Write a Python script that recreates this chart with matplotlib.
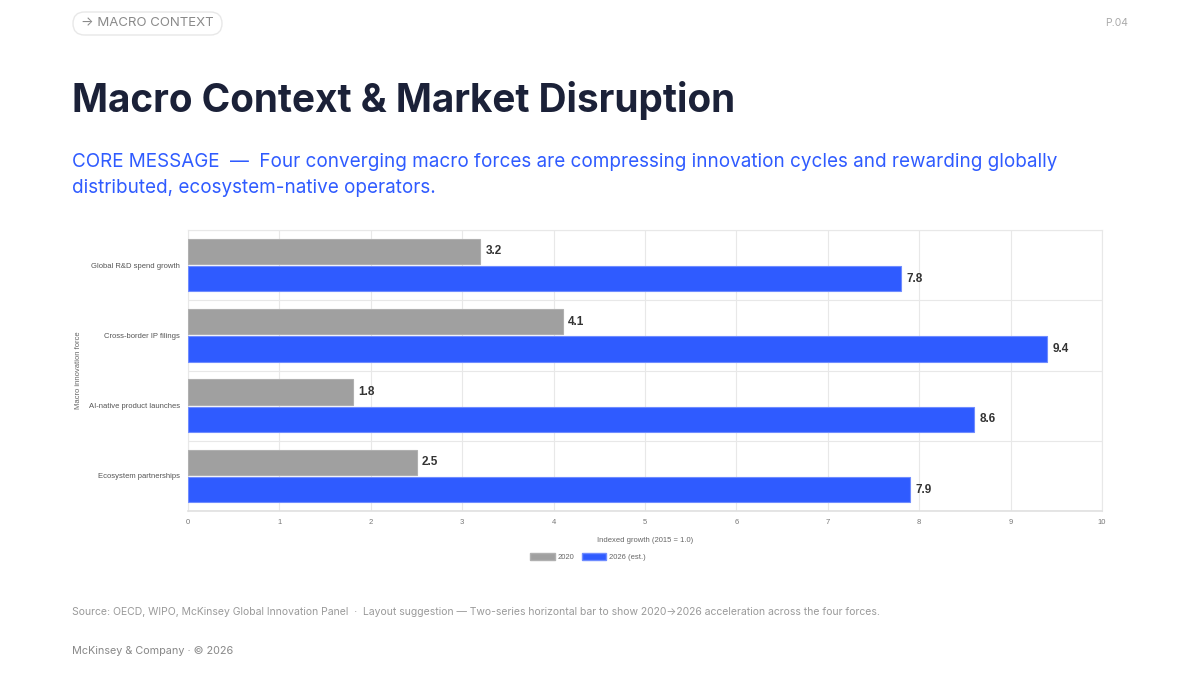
import matplotlib
matplotlib.use("Agg")
import matplotlib.pyplot as plt
import numpy as np
from matplotlib.patches import FancyBboxPatch, Patch

# ---- Data ----
forces = ["Global R&D spend growth", "Cross-border IP filings",
          "AI-native product launches", "Ecosystem partnerships"]
vals_2020 = [3.2, 4.1, 1.8, 2.5]
vals_2026 = [7.8, 9.4, 8.6, 7.9]
series_names = ["2020", "2026 (est.)"]
x_ticks = list(range(0, 11))

# Palette
NAVY = "#1b2138"
BLUE = "#2f5bff"
GREY_BAR = "#a0a0a0"
GRID = "#e8e8e8"
MUTED = "#9a9a9a"
LABEL = "#555555"

W, H = 1200, 675
fig = plt.figure(figsize=(W / 100, H / 100), dpi=100)
fig.patch.set_facecolor("white")

# page overlay in pixel coordinates (y grows downward)
page = fig.add_axes([0, 0, 1, 1], zorder=-1)
page.set_xlim(0, W)
page.set_ylim(H, 0)
page.axis("off")

# ---- Header ----
page.add_patch(FancyBboxPatch((73, 12), 149, 23,
                              boxstyle="round,pad=0,rounding_size=11.5",
                              facecolor="white", edgecolor="#e8e8e8", linewidth=1.0))
page.text(147.5, 23.5, "→ MACRO CONTEXT", fontsize=9.5, color="#8a8a8a",
          ha="center", va="center", family="Inter")
page.text(1128, 23.5, "P.04", fontsize=7.5, color="#aaaaaa",
          ha="right", va="center", family="Inter")

page.text(72, 100, "Macro Context & Market Disruption", fontsize=27.9,
          fontweight="bold", color=NAVY, ha="left", va="center", family="Inter")

page.text(72, 162,
          "CORE MESSAGE  —  Four converging macro forces are compressing innovation cycles and rewarding globally",
          fontsize=13.6, color=BLUE, ha="left", va="center", family="Inter")
page.text(72, 188, "distributed, ecosystem-native operators.",
          fontsize=13.6, color=BLUE, ha="left", va="center", family="Inter")

# ---- Chart ----
ax = fig.add_axes([188 / W, 1 - 511 / H, (1102 - 188) / W, (511 - 230) / H])
y = np.arange(len(forces))
off, bh = 0.195, 0.36
ax.barh(y - off, vals_2020, height=bh, color=GREY_BAR, edgecolor="#b0b0b0",
        linewidth=0.8, label=series_names[0], zorder=3)
ax.barh(y + off, vals_2026, height=bh, color=BLUE, edgecolor="#6f8cff",
        linewidth=0.8, label=series_names[1], zorder=3)
for yi, v in zip(y - off, vals_2020):
    ax.text(v + 0.06, yi, f"{v:.1f}", va="center", ha="left", fontsize=8.5,
            fontweight="bold", color="#333333", family="Liberation Sans")
for yi, v in zip(y + off, vals_2026):
    ax.text(v + 0.06, yi, f"{v:.1f}", va="center", ha="left", fontsize=8.5,
            fontweight="bold", color="#333333", family="Liberation Sans")

ax.set_xlim(0, 10)
ax.set_ylim(len(forces) - 0.5, -0.5)
ax.set_xticks(x_ticks)
ax.set_yticks(y)
ax.set_yticklabels(forces)
ax.set_yticks(np.arange(-0.5, len(forces)), minor=True)
ax.grid(axis="x", which="major", color=GRID, linewidth=0.8, zorder=0)
ax.grid(axis="y", which="minor", color=GRID, linewidth=0.8, zorder=0)
ax.tick_params(axis="both", which="both", length=0)
ax.tick_params(axis="x", labelsize=5.5, labelcolor="#777777", pad=6)
ax.tick_params(axis="y", labelsize=5.5, labelcolor=LABEL, pad=6)
for lab in ax.get_xticklabels() + ax.get_yticklabels():
    lab.set_family("Liberation Sans")
for s in ax.spines.values():
    s.set_color(GRID)
    s.set_linewidth(0.8)
ax.spines["bottom"].set_color("#e0e0e0")
ax.spines["bottom"].set_linewidth(1.2)

page.text(645, 540, "Indexed growth (2015 = 1.0)", fontsize=5.5,
          color="#666666", ha="center", va="center", family="Liberation Sans")
page.text(78, 370, "Macro innovation force", fontsize=5.5, rotation=90,
          color="#666666", ha="center", va="center", family="Liberation Sans")

handles = [Patch(facecolor=GREY_BAR, edgecolor="#b0b0b0", label=series_names[0]),
           Patch(facecolor=BLUE, edgecolor="#6f8cff", label=series_names[1])]
leg = fig.legend(handles=handles, loc="center", bbox_to_anchor=(588 / W, 1 - 557 / H),
                 ncol=2, frameon=False, handlelength=3.2,
                 handleheight=1.0, columnspacing=0.9, handletextpad=0.4,
                 prop={"family": "Liberation Sans", "size": 5.5})
for t in leg.get_texts():
    t.set_color("#666666")

# ---- Footer ----
page.text(72, 612,
          "Source: OECD, WIPO, McKinsey Global Innovation Panel  ·  Layout suggestion — Two-series horizontal bar to show 2020→2026 acceleration across the four forces.",
          fontsize=7.5, color=MUTED, ha="left", va="center", family="Inter")
page.text(72, 651, "McKinsey & Company · © 2026", fontsize=7.8,
          color="#888888", ha="left", va="center", family="Inter")

fig.savefig("out.png", dpi=100, facecolor="white")
